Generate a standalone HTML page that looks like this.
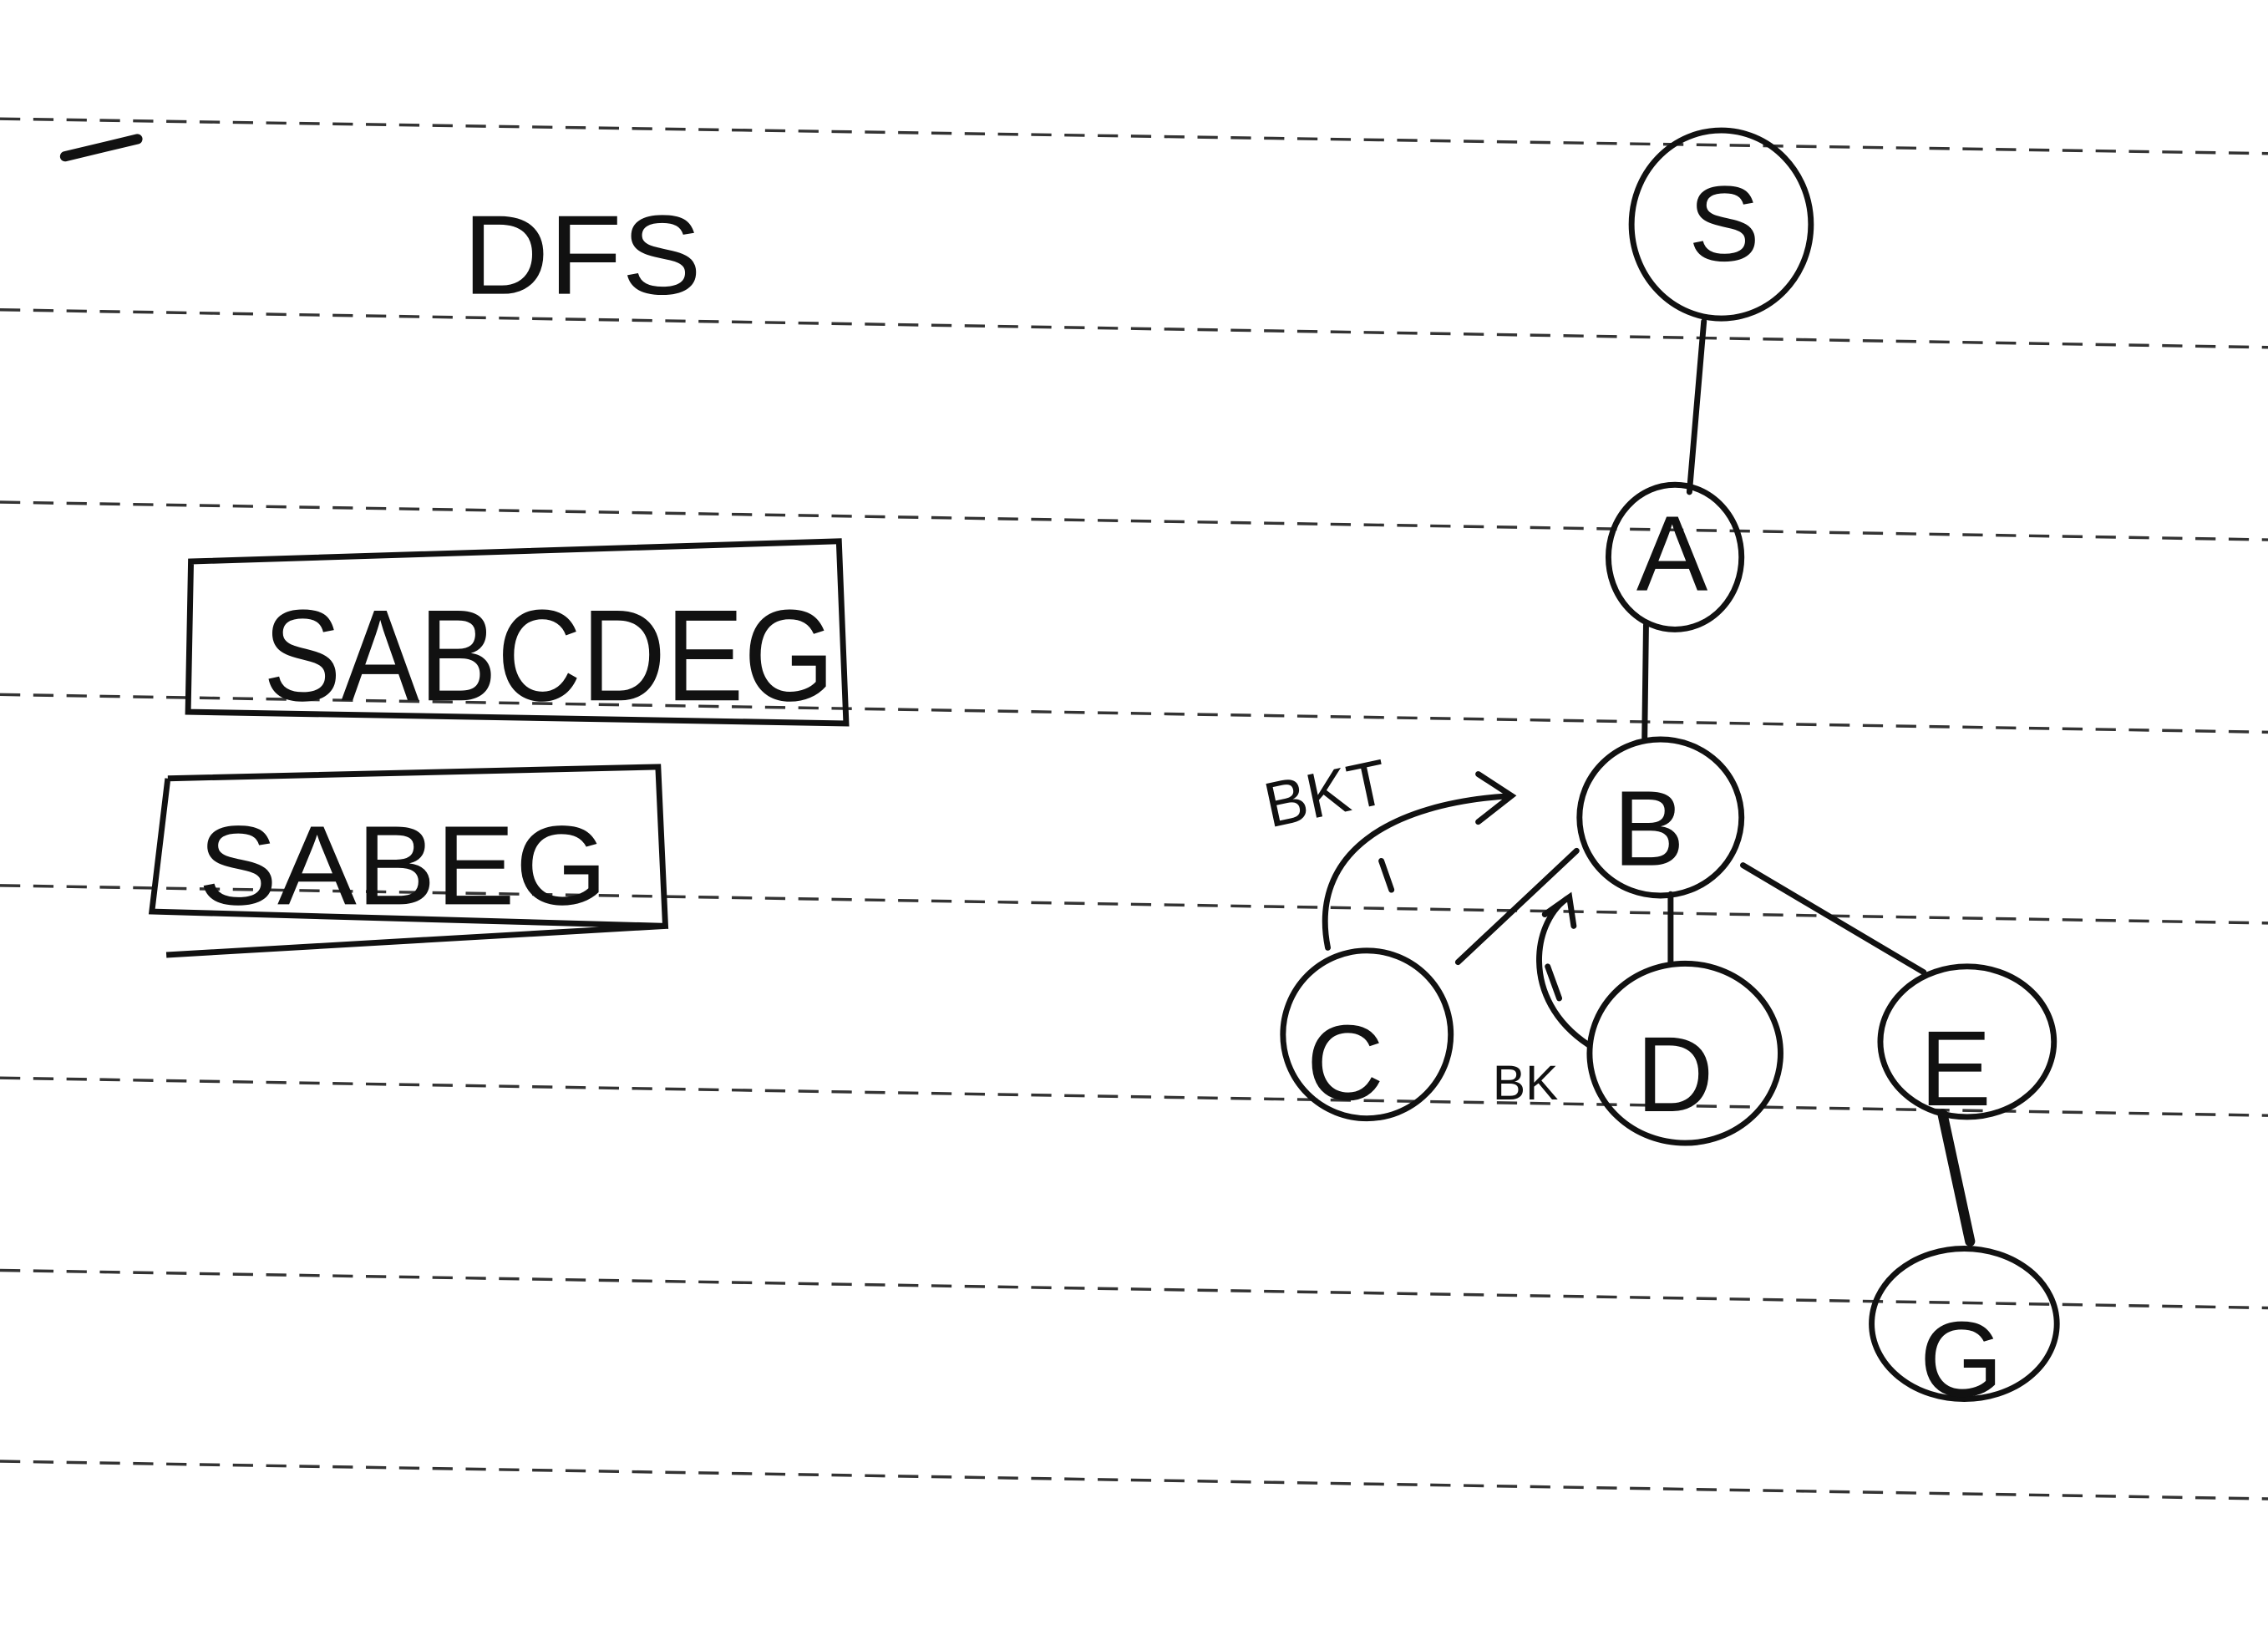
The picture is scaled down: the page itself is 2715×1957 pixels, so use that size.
<!DOCTYPE html>
<html><head><meta charset="utf-8"><style>
html,body{margin:0;padding:0;background:#fff;}
svg{display:block;}
text{font-family:"Liberation Sans",sans-serif;fill:#111;}
</style></head><body>
<svg width="2715" height="1957" viewBox="0 0 1568 1130" xmlns="http://www.w3.org/2000/svg">
<rect width="1568" height="1130" fill="#ffffff"/>
<g stroke="#333" stroke-width="2" stroke-dasharray="14 9" fill="none">
<line x1="0" y1="82" x2="1568" y2="106"/>
<line x1="0" y1="214" x2="1568" y2="240"/>
<line x1="0" y1="347" x2="1568" y2="373"/>
<line x1="0" y1="480" x2="1568" y2="506"/>
<line x1="0" y1="612" x2="1568" y2="638"/>
<line x1="0" y1="745" x2="1568" y2="771"/>
<line x1="0" y1="878" x2="1568" y2="904"/>
<line x1="0" y1="1010" x2="1568" y2="1036"/>
</g>
<path d="M45 108 L95 96" stroke="#111" stroke-width="7" stroke-linecap="round"/>
<text x="320" y="203" font-size="78" textLength="165" lengthAdjust="spacingAndGlyphs">DFS</text>
<g fill="none" stroke="#111" stroke-width="4">
<path d="M132 388 L580 374 L585 500 L130 492 Z"/>
</g>
<text x="182" y="484" font-size="90" textLength="395" lengthAdjust="spacingAndGlyphs">SABCDEG</text>
<g fill="none" stroke="#111" stroke-width="4">
<path d="M116 538 L455 530 L460 640 L105 630 L116 538"/>
<path d="M115 660 L460 640"/>
</g>
<text x="137" y="625" font-size="78" textLength="283" lengthAdjust="spacingAndGlyphs">SABEG</text>
<g stroke="#111" stroke-width="4" fill="none" stroke-linecap="round">
<path d="M1178 222 L1168 340"/>
<path d="M1138 432 L1137 510"/>
<path d="M1090 588 L1008 665"/>
<path d="M1155 618 L1155 665"/>
<path d="M1205 598 L1330 672"/>
<path d="M1343 770 L1362 858" stroke-width="7"/>
</g>
<g fill="none" stroke="#111" stroke-width="4">
<ellipse cx="1190" cy="155" rx="62" ry="65"/>
<ellipse cx="1158" cy="385" rx="46" ry="50"/>
<ellipse cx="1148" cy="565" rx="56" ry="54"/>
<ellipse cx="945" cy="715" rx="58" ry="58"/>
<ellipse cx="1165" cy="728" rx="66" ry="62"/>
<ellipse cx="1360" cy="720" rx="60" ry="52"/>
<ellipse cx="1358" cy="915" rx="64" ry="52"/>
</g>
<g font-size="74" text-anchor="middle">
<text x="1192" y="180">S</text>
<text x="1156" y="408">A</text>
<text x="1140" y="598">B</text>
<text x="930" y="760">C</text>
<text x="1158" y="768">D</text>
<text x="1352" y="764">E</text>
<text x="1356" y="965">G</text>
</g>
<text x="878" y="572" font-size="44" transform="rotate(-12 878 572)">BKT</text>
<path d="M918 655 C905 590 960 555 1045 550 M1022 535 L1045 550 L1022 568 M955 595 L962 615" fill="none" stroke="#111" stroke-width="4" stroke-linecap="round"/>
<text x="1032" y="760" font-size="34">BK</text>
<path d="M1098 722 C1050 690 1060 635 1085 620 M1068 632 L1085 620 L1088 640 M1070 668 L1078 690" fill="none" stroke="#111" stroke-width="4" stroke-linecap="round"/>
</svg>
</body></html>
